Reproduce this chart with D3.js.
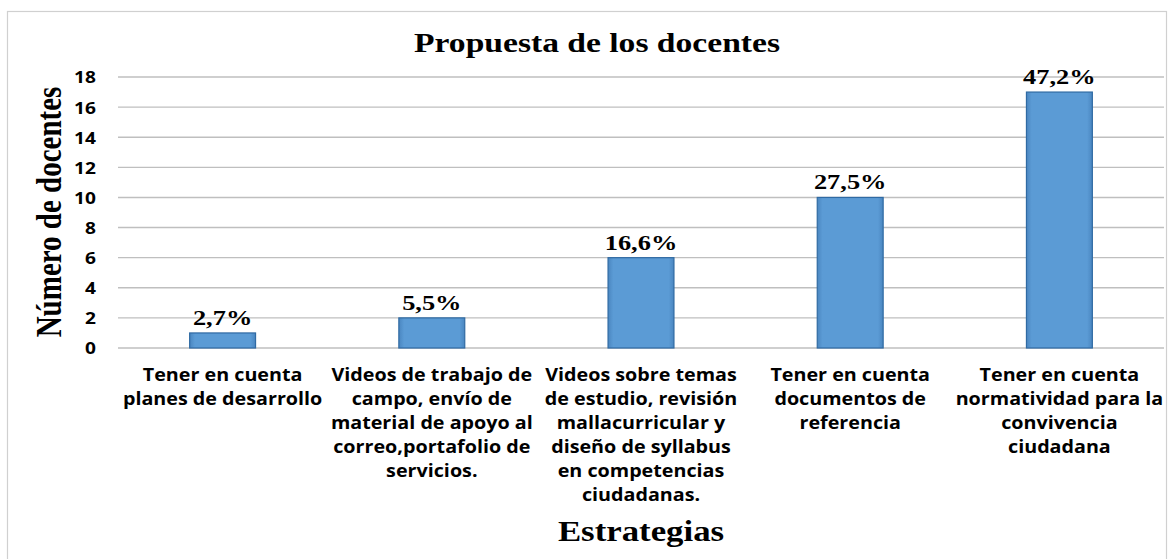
<!DOCTYPE html>
<html>
<head>
<meta charset="utf-8">
<style>
body { margin: 0; background: #fff; }
svg text { fill: #000; }
.tick-y { font: bold 16.5px "Open Sans", sans-serif; }
.cat { font: bold 17px "Open Sans", sans-serif; }
.serif { font-family: "Liberation Serif", serif; font-weight: bold; }
</style>
</head>
<body>
<script src="https://d3js.org/d3.v7.min.js"></script>
<script>

// data
var categories = [
  ["Tener en cuenta", "planes de desarrollo"],
  ["Videos de trabajo de", "campo, envío de", "material de apoyo al", "correo,portafolio de", "servicios."],
  ["Videos sobre temas", "de estudio, revisión", "mallacurricular y", "diseño de syllabus", "en competencias", "ciudadanas."],
  ["Tener en cuenta", "documentos de", "referencia"],
  ["Tener en cuenta", "normatividad para la", "convivencia", "ciudadana"]
];
var docentes = [1, 2, 6, 10, 17];
var percents = ["2,7%", "5,5%", "16,6%", "27,5%", "47,2%"];
var yTicks = [0, 2, 4, 6, 8, 10, 12, 14, 16, 18];

var W = 1170, H = 559;
var mLeft = 118, mRight = 1164, mTop = 77, mBottom = 348;
var sxSerif = 1.2, sxSans = 1.16;   // the picture is a bit stretched sideways

var svg = d3.select("body").append("svg")
  .attr("width", W).attr("height", H);

var defs = svg.append("defs");
var grad = defs.append("linearGradient").attr("id", "barg").attr("x1", 0).attr("x2", 1);
grad.append("stop").attr("offset", "0").attr("stop-color", "#4a86c0");
grad.append("stop").attr("offset", "0.08").attr("stop-color", "#5b9bd5");
grad.append("stop").attr("offset", "0.92").attr("stop-color", "#5b9bd5");
grad.append("stop").attr("offset", "1").attr("stop-color", "#4a86c0");

// outer border
svg.append("rect").attr("x", 7.5).attr("y", 11.5).attr("width", 1159).attr("height", 600)
  .attr("fill", "none").attr("stroke", "#d0d0d0").attr("stroke-width", 1.2);

var x = d3.scaleBand().domain(d3.range(categories.length)).range([mLeft, mRight])
  .paddingInner(0.685).paddingOuter(0.3425);
var y = d3.scaleLinear().domain([0, 18]).range([mBottom, mTop]);

// grid
svg.append("g").selectAll("line").data(yTicks).join("line")
  .attr("x1", mLeft).attr("x2", mRight)
  .attr("y1", d => y(d)).attr("y2", d => y(d))
  .attr("stroke", "#bfbfbf").attr("stroke-width", 1.4);

// y tick labels
var yAxis = svg.append("g").attr("transform", "translate(" + (mLeft - 22) + ",0)")
  .call(d3.axisLeft(y).tickValues(yTicks).tickSize(0).tickPadding(0));
yAxis.select(".domain").remove();
yAxis.selectAll(".tick text").attr("class", "tick-y").attr("fill", "#000")
  .attr("x", 0).attr("dy", "0.36em")
  .attr("transform", "scale(" + sxSans + ",1)");

// bars
svg.append("g").selectAll("rect").data(docentes).join("rect")
  .attr("x", (d, i) => x(i))
  .attr("y", d => y(d))
  .attr("width", x.bandwidth())
  .attr("height", d => y(0) - y(d))
  .attr("fill", "url(#barg)")
  .attr("stroke", "#2f6aa3").attr("stroke-width", 1.2);

// value labels
svg.append("g").selectAll("text").data(docentes).join("text")
  .attr("class", "serif")
  .attr("transform", (d, i) => "translate(" + (x(i) + x.bandwidth() / 2) + "," + (y(d) - 8) + ") scale(" + sxSerif + ",1)")
  .attr("text-anchor", "middle")
  .style("font-size", "22px")
  .text((d, i) => percents[i]);

// category labels
var cat = svg.append("g").selectAll("text").data(categories).join("text")
  .attr("class", "cat")
  .attr("text-anchor", "middle")
  .attr("transform", (d, i) => "translate(" + (x(i) + x.bandwidth() / 2) + ",381) scale(" + sxSans + ",1)");
cat.selectAll("tspan").data(d => d).join("tspan")
  .attr("x", 0)
  .attr("dy", (d, j) => j === 0 ? 0 : 24)
  .text(d => d);

// titles
svg.append("text").attr("class", "serif")
  .attr("transform", "translate(597,52) scale(" + sxSerif + ",1)")
  .attr("text-anchor", "middle")
  .style("font-size", "28px").text("Propuesta de los docentes");

svg.append("text").attr("class", "serif")
  .attr("transform", "translate(61,212) rotate(-90) scale(1," + sxSerif + ")")
  .attr("text-anchor", "middle")
  .style("font-size", "29px").text("Número de docentes");

svg.append("text").attr("class", "serif")
  .attr("transform", "translate(641,541) scale(" + sxSerif + ",1)")
  .attr("text-anchor", "middle")
  .style("font-size", "29px").text("Estrategias");

</script>
</body>
</html>
